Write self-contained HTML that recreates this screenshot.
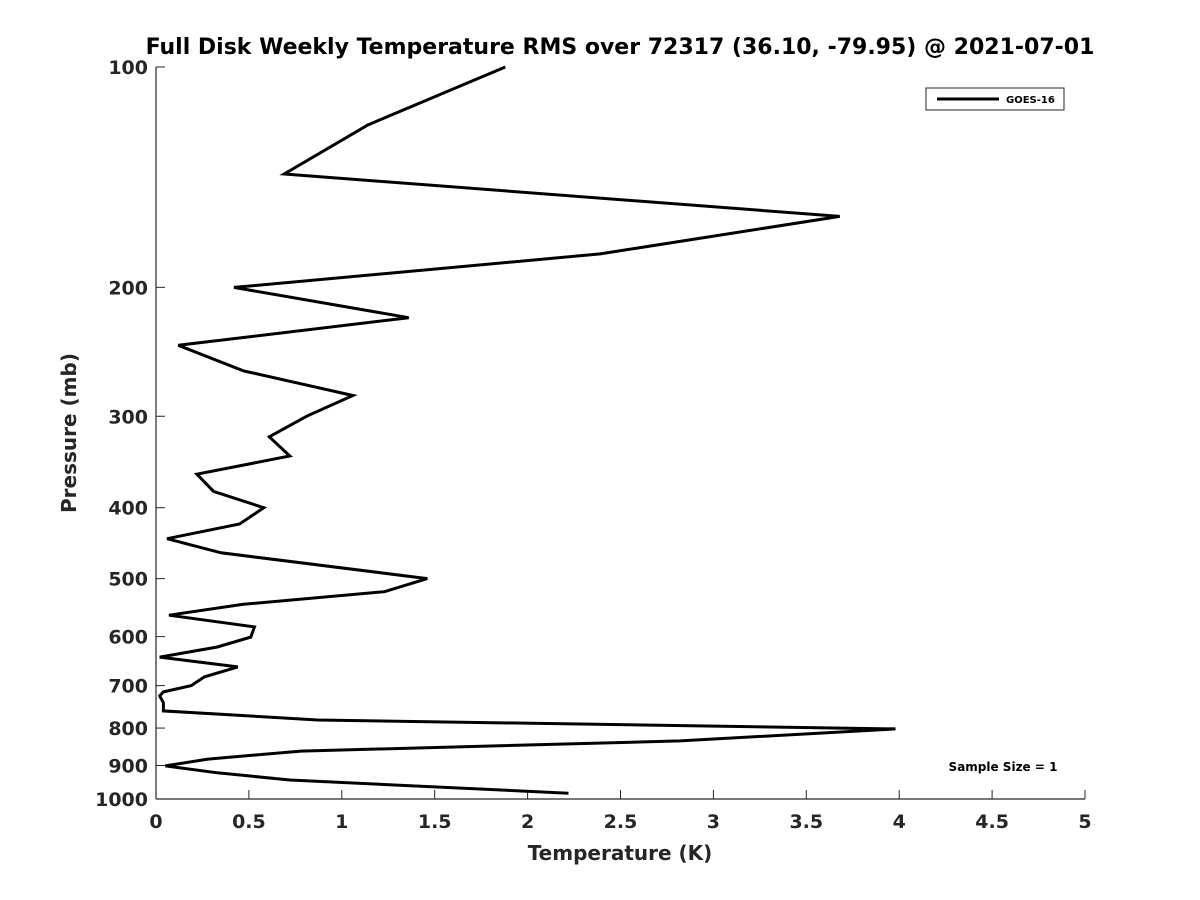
<!DOCTYPE html>
<html><head><meta charset="utf-8"><style>
body{margin:0;background:#fff;}
svg{display:block;font-family:"DejaVu Sans","Liberation Sans",sans-serif;font-weight:bold;}
</style></head><body>
<svg id="chart" width="1200" height="900" viewBox="0 0 1200 900">
<rect width="1200" height="900" fill="#fff"/>
<text x="620" y="54" text-anchor="middle" font-size="22" fill="#000">Full Disk Weekly Temperature RMS over 72317 (36.10, -79.95) @ 2021-07-01</text>
<g id="axes"></g>
<g id="series"></g>
<text x="620" y="860" text-anchor="middle" font-size="20" fill="#262626">Temperature (K)</text>
<text transform="translate(76,433) rotate(-90)" text-anchor="middle" font-size="20" fill="#262626">Pressure (mb)</text>
<g>
<rect x="926" y="88" width="138" height="22" fill="#fff" stroke="#262626" stroke-width="1"/>
<line x1="937" y1="99" x2="999" y2="99" stroke="#000" stroke-width="3"/>
<text x="1006" y="103" font-size="10" fill="#000">GOES-16</text>
</g>
<text x="1003" y="771" text-anchor="middle" font-size="12" fill="#000">Sample Size = 1</text>
</svg>
<script>
const temperatures=[1.88,1.14,0.69,3.68,2.39,0.42,1.36,0.12,0.47,1.06,0.81,0.61,0.72,0.22,0.31,0.58,0.45,0.06,0.35,1.46,1.23,0.47,0.07,0.53,0.51,0.33,0.02,0.44,0.26,0.19,0.04,0.02,0.04,0.04,0.87,3.98,2.82,0.78,0.28,0.05,0.33,0.72,2.22];
const pressures=[100,120,140,160,180,200,220,240,260,281,300,320,340,360,380,400,421,441,461,500,521,542,561,582,601,620,640,660,681,700,714,723,739,758,780,802,833,860,882,901,921,942,982];
const xTicks=[0,0.5,1,1.5,2,2.5,3,3.5,4,4.5,5];
const xTickLabels=["0","0.5","1","1.5","2","2.5","3","3.5","4","4.5","5"];
const yTicks=[100,200,300,400,500,600,700,800,900,1000];
const yTickLabels=["100","200","300","400","500","600","700","800","900","1000"];
const L=156,R=1085,T=67,B=799;
function xs(v){return L+(v/5)*(R-L);}
function ys(p){return T+Math.log10(p/100)*(B-T);}
const NS="http://www.w3.org/2000/svg";
const axes=document.getElementById('axes');
function mk(tag,attrs,parent){const e=document.createElementNS(NS,tag);for(const k in attrs)e.setAttribute(k,attrs[k]);parent.appendChild(e);return e;}
const xa=mk('line',{x1:L,y1:B,x2:R,y2:B,stroke:'#262626','stroke-width':1.2},axes);


const ya=mk('line',{x1:L,y1:T,x2:L,y2:B,stroke:'#262626','stroke-width':1.2},axes);


xTicks.forEach((v,i)=>{
  const x=xs(v);
  const t=mk('line',{x1:x,y1:B,x2:x,y2:B-9,stroke:'#262626','stroke-width':1},axes);
  
  
  const l=mk('text',{x:x,y:B+29,'text-anchor':'middle','font-size':19,fill:'#262626'},axes);
  l.textContent=xTickLabels[i];
  
  
});
yTicks.forEach((v,i)=>{
  const y=ys(v);
  const t=mk('line',{x1:L,y1:y,x2:L+9,y2:y,stroke:'#262626','stroke-width':1},axes);
  
  
  const l=mk('text',{x:L-8,y:y+7,'text-anchor':'end','font-size':19,fill:'#262626'},axes);
  l.textContent=yTickLabels[i];
  
  
});
const pts=temperatures.map((t,i)=>xs(t).toFixed(1)+','+ys(pressures[i]).toFixed(1)).join(' ');
const line=mk('polyline',{points:pts,fill:'none',stroke:'#000','stroke-width':3,'stroke-linejoin':'miter'},document.getElementById('series'));


</script>
</body></html>
